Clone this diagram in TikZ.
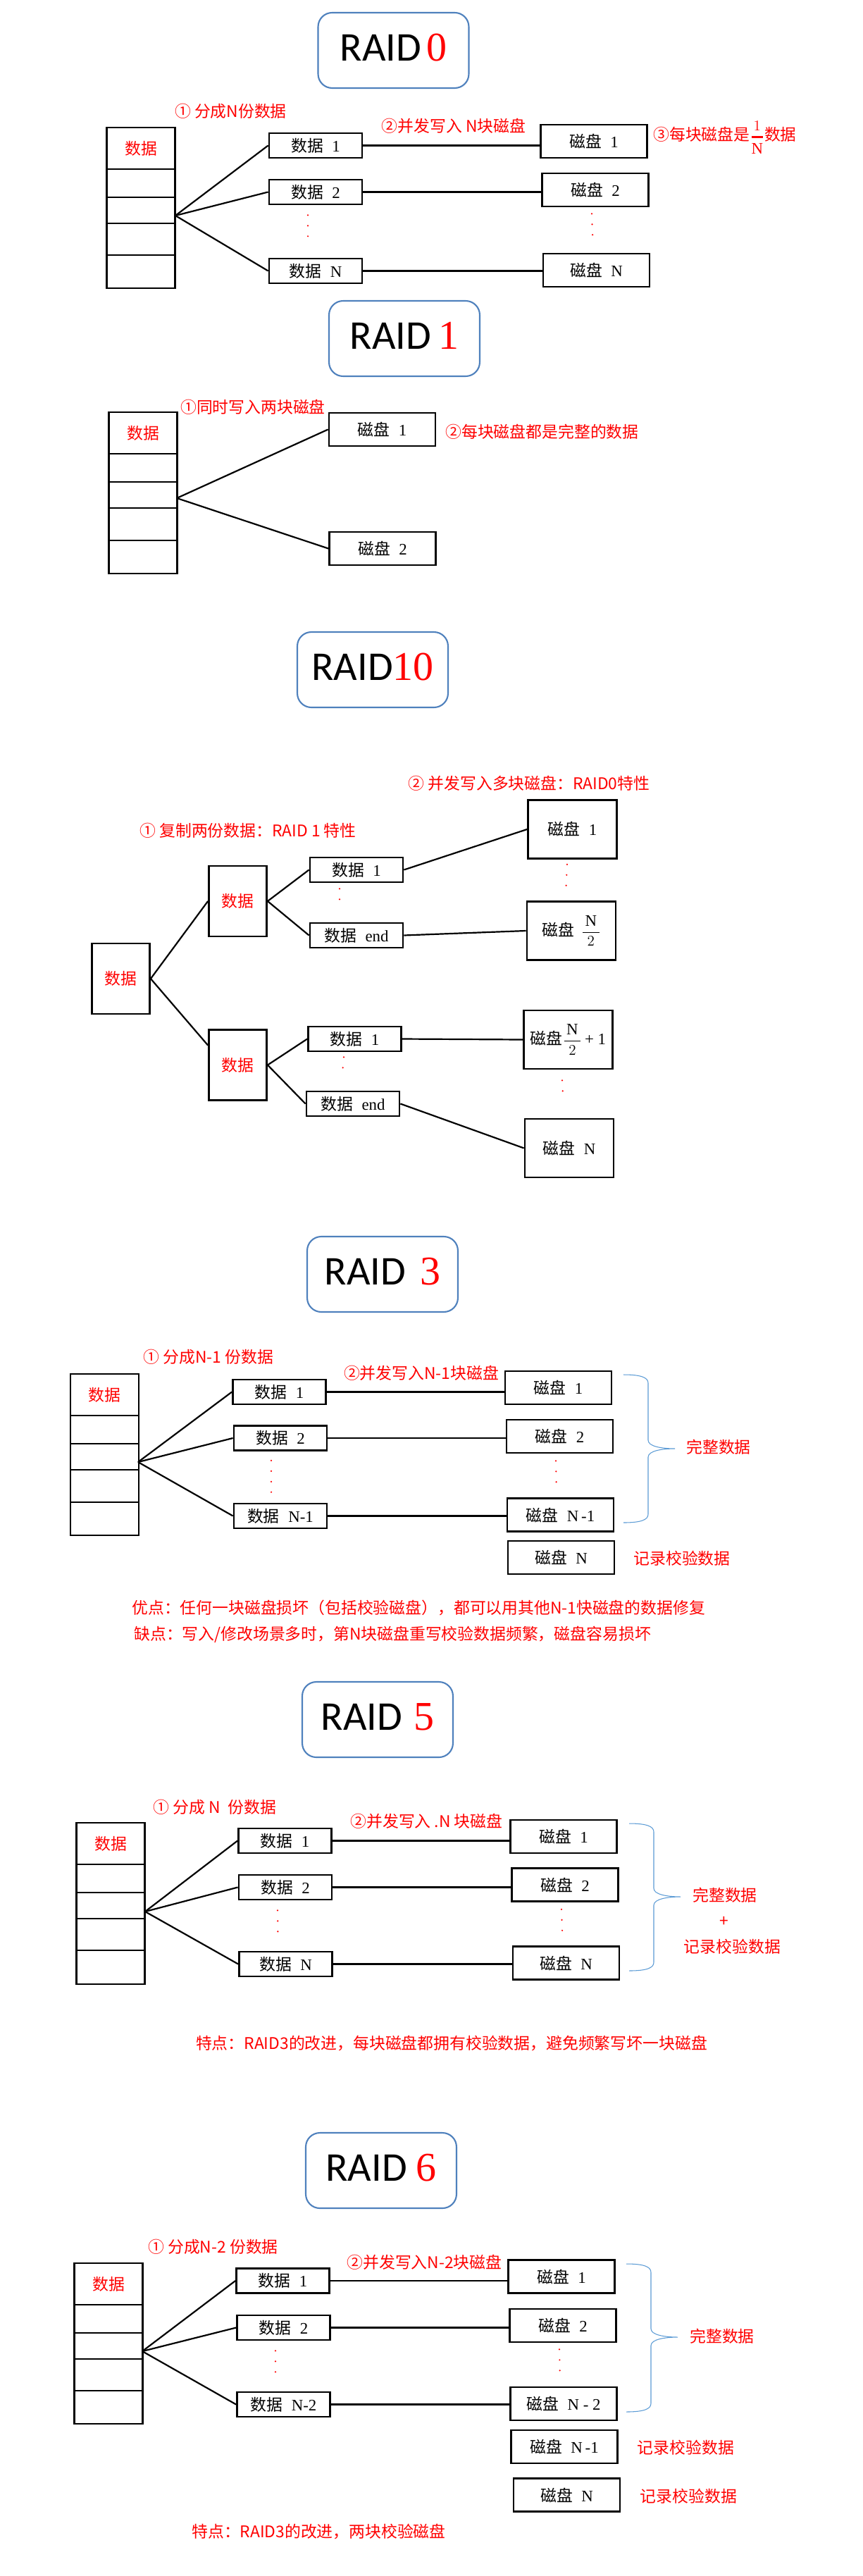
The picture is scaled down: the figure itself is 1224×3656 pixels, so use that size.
\documentclass[tikz,border=0pt]{standalone}
\usepackage{amsmath}
\usepackage{fontspec}
\setmainfont{Liberation Serif}
\newfontfamily\cjk{Noto Sans CJK SC}
\newfontfamily\raidfont{Carlito}
\usepackage{tikz}

\definecolor{raidblue}{RGB}{79,129,189}
\definecolor{bracecol}{RGB}{91,155,213}
\newcommand{\idx}[1]{\hspace{0.25cm}{\rmfamily #1}}
\newcommand{\diskbrace}[4]{\draw[brace] (#1, #2) .. controls (#1+25, #2) and (#1+35, #2+4) .. (#1+35, #2+12) -- (#1+35, #3-12) .. controls (#1+35, #3-3) and (#1+55, #3) .. (#1+73, #3) .. controls (#1+55, #3) and (#1+35, #3+3) .. (#1+35, #3+12) -- (#1+35, #4-12) .. controls (#1+35, #4-4) and (#1+25, #4) .. (#1, #4);}

\begin{document}
\begin{tikzpicture}[x=0.02cm, y=-0.02cm]%
	\tikzstyle{raid}=[rectangle, draw=raidblue, line width=1.2pt, rounded corners=0.4cm, minimum width=4.28cm, minimum height=2.14cm, text depth=0.18cm, inner sep=0, font=\fontsize{33pt}{36pt}\selectfont];
	\tikzstyle{cell}=[rectangle, draw=black, line width=1.6pt, minimum width=1.94cm, inner sep=0, text=red, font=\cjk\fontsize{13pt}{15pt}\selectfont];
	\tikzstyle{blk}=[rectangle, draw=black, line width=1.6pt, minimum width=2.64cm, minimum height=0.7cm, inner sep=0, font=\cjk\fontsize{13pt}{15pt}\selectfont];
	\tikzstyle{disk}=[blk, minimum width=3.02cm, minimum height=0.94cm];
	\tikzstyle{tall}=[blk, minimum width=2.52cm, minimum height=1.66cm];
	\tikzstyle{stack}=[blk, minimum width=1.64cm, minimum height=2cm, text=red];
	\tikzstyle{note}=[text=red, inner sep=0, font=\cjk\fontsize{13pt}{15pt}\selectfont];
	\tikzstyle{link}=[line width=1.25pt];
	\tikzstyle{dots}=[red, line width=1.4pt, line cap=round, dash pattern=on 0pt off 8.5pt];
	\tikzstyle{brace}=[bracecol, line width=0.6pt];
	\fill[white] (0, 0) rectangle (1224, 3656);
	\useasboundingbox (0, 0) rectangle (1224, 3656);

	% RAID 0
	\node (t0) at (558.5, 71.5) [raid] {{\raidfont RAID}\hspace{0.14cm}{\color{red}0}\hspace{0.52cm}};
	\node (n01) at (327.5, 158) [note] {① 分成N份数据};
	\node (n02) at (644, 179) [note] {②并发写入 N块磁盘};
	\begin{scope}
		\clip (900, 150) rectangle (1127, 235);
		\node (n03) at (927, 195) [note, anchor=west] {③每块磁盘是$\genfrac{}{}{1.5pt}{0}{1}{\mathrm{N}}$数据};
	\end{scope}
	\node (c0a) at (200, 210.5) [cell, minimum height=1.18cm] {数据};
	\node (c0b) at (200, 260) [cell, minimum height=0.8cm] {};
	\node (c0c) at (200, 298.5) [cell, minimum height=0.74cm] {};
	\node (c0d) at (200, 339.5) [cell, minimum height=0.9cm] {};
	\node (c0e) at (200, 385.5) [cell, minimum height=0.94cm] {};
	\coordinate (fan0) at (249, 306);
	\node (d01) at (448, 206.5) [blk] {数据\idx{1}};
	\node (d02) at (448, 272.5) [blk] {数据\idx{2}};
	\node (d0n) at (448, 384.5) [blk] {数据\idx{N}};
	\node (k01) at (843, 200.5) [disk] {磁盘\idx{1}};
	\node (k02) at (845, 269.5) [disk] {磁盘\idx{2}};
	\node (k0n) at (846.5, 383.5) [disk] {磁盘\idx{N}};
	\draw[link] (fan0) -- (d01.west);
	\draw[link] (fan0) -- (d02.west);
	\draw[link] (fan0) -- (d0n.west);
	\draw[link] (d01.east) -- (d01.east -| k01.west);
	\draw[link] (d02.east) -- (d02.east -| k02.west);
	\draw[link] (d0n.east) -- (d0n.east -| k0n.west);
	\draw[dots] ([xshift=-0.22cm, yshift=-0.28cm]d02.south) -- ([xshift=-0.22cm, yshift=0.34cm]d0n.north);
	\draw[dots] ([xshift=-0.1cm, yshift=-0.18cm]k02.south) -- ([xshift=-0.1cm, yshift=0.24cm]k0n.north);

	% RAID 1
	\node (t1) at (574, 480.5) [raid] {{\raidfont RAID}\hspace{0.2cm}{\color{red}1}\hspace{0.58cm}};
	\node (n11) at (359, 578) [note] {①同时写入两块磁盘};
	\node (n12) at (769.5, 613) [note] {②每块磁盘都是完整的数据};
	\node (c1a) at (203, 614.5) [cell, minimum height=1.18cm] {数据};
	\node (c1b) at (203, 664) [cell, minimum height=0.8cm] {};
	\node (c1c) at (203, 702.5) [cell, minimum height=0.74cm] {};
	\node (c1d) at (203, 744) [cell, minimum height=0.92cm] {};
	\node (c1e) at (203, 790.5) [cell, minimum height=0.94cm] {};
	\coordinate (fan1) at (251, 707);
	\node (k11) at (542.5, 609.5) [disk] {磁盘\idx{1}};
	\node (k12) at (543, 778.5) [disk] {磁盘\idx{2}};
	\draw[link] (fan1) -- (k11.west);
	\draw[link] (fan1) -- (k12.west);

	% RAID 10
	\node (t10) at (529, 950.5) [raid] {{\raidfont RAID}{\color{red}10}};
	\node (n101) at (352, 1179) [note] {① 复制两份数据：RAID 1 特性};
	\node (n102) at (751, 1112) [note] {② 并发写入多块磁盘：RAID0特性};
	\node (r10) at (171.5, 1389) [stack] {数据};
	\node (u10) at (337.5, 1279) [stack] {数据};
	\node (l10) at (337.5, 1511.5) [stack] {数据};
	\node (ud1) at (506, 1234.5) [blk] {数据\idx{1}};
	\node (ude) at (506, 1327.5) [blk] {数据\idx{end}};
	\node (ld1) at (503.5, 1474.5) [blk] {数据\idx{1}};
	\node (lde) at (501, 1566.5) [blk] {数据\idx{end}};
	\node (k101) at (812.5, 1177) [tall] {磁盘\idx{1}};
	\node (k102) at (811, 1321) [tall] {磁盘\hspace{0.2cm}$\dfrac{\,\mathrm{N}\,}{2}$};
	\node (k103) at (806.5, 1475.5) [tall] {磁盘$\dfrac{\,\mathrm{N}\,}{2}$\,{\rmfamily + 1}};
	\node (k104) at (808, 1629.5) [tall] {磁盘\idx{N}};
	\draw[link] (r10.east) -- (u10.west);
	\draw[link] (r10.east) -- ([yshift=0.56cm]l10.west);
	\draw[link] (u10.east) -- (ud1.west);
	\draw[link] (u10.east) -- (ude.west);
	\draw[link] (l10.east) -- (ld1.west);
	\draw[link] (l10.east) -- (lde.west);
	\draw[link] (ud1.east) -- (k101.west);
	\draw[link] (ude.east) -- (k102.west);
	\draw[link] (ld1.east) -- (k103.west);
	\draw[link] (lde.east) -- (k104.west);
	\draw[dots] ([xshift=-0.48cm, yshift=-0.16cm]ud1.south) -- ([xshift=-0.48cm, yshift=0.38cm]ude.north);
	\draw[dots] ([xshift=-0.31cm, yshift=-0.14cm]ld1.south) -- ([xshift=-0.31cm, yshift=0.38cm]lde.north);
	\draw[dots] ([xshift=-0.15cm, yshift=-0.14cm]k101.south) -- ([xshift=-0.15cm, yshift=0.36cm]k102.north);
	\draw[dots] ([xshift=-0.17cm, yshift=-0.3cm]k103.south) -- ([xshift=-0.17cm, yshift=0.48cm]k104.north);

	% RAID 3
	\node (t3) at (543, 1808.5) [raid] {{\raidfont RAID}\hspace{0.4cm}{\color{red}3}\hspace{0.22cm}};
	\node (n31) at (296, 1926) [note] {① 分成N-1 份数据};
	\node (n32) at (598, 1949) [note] {②并发写入N-1块磁盘};
	\node (c3a) at (148.5, 1979.5) [cell, minimum height=1.18cm] {数据};
	\node (c3b) at (148.5, 2029) [cell, minimum height=0.8cm] {};
	\node (c3c) at (148.5, 2067.5) [cell, minimum height=0.74cm] {};
	\node (c3d) at (148.5, 2109) [cell, minimum height=0.92cm] {};
	\node (c3e) at (148.5, 2155.5) [cell, minimum height=0.94cm] {};
	\coordinate (fan3) at (196, 2075);
	\node (d31) at (396.5, 1975.5) [blk] {数据\idx{1}};
	\node (d32) at (398, 2041) [blk] {数据\idx{2}};
	\node (d3n) at (398, 2151.5) [blk] {数据\idx{N-1}};
	\node (k31) at (792.5, 1969.5) [disk] {磁盘\idx{1}};
	\node (k32) at (794.5, 2038.5) [disk] {磁盘\idx{2}};
	\node (k3n1) at (795.5, 2150) [disk] {磁盘\idx{N\,-1}};
	\node (k3n) at (796.5, 2210.5) [disk] {磁盘\idx{N}};
	\draw[link] (fan3) -- (d31.west);
	\draw[link] (fan3) -- (d32.west);
	\draw[link] (fan3) -- (d3n.west);
	\draw[link] (d31.east) -- (d31.east -| k31.west);
	\draw[link] (d32.east) -- (d32.east -| k32.west);
	\draw[link] (d3n.east) -- (d3n.east -| k3n1.west);
	\draw[dots] ([xshift=-0.26cm, yshift=-0.26cm]d32.south) -- ([xshift=-0.26cm, yshift=0.26cm]d3n.north);
	\draw[dots] ([xshift=-0.11cm, yshift=-0.2cm]k32.south) -- ([xshift=-0.11cm, yshift=0.14cm]k3n1.north);
	\diskbrace{885}{1951}{2056}{2161}
	\node (n33) at (1020, 2054) [note] {完整数据};
	\node (n34) at (968, 2212) [note] {记录校验数据};
	\node (n35) at (187, 2282) [note, anchor=west] {优点：任何一块磁盘损坏（包括校验磁盘），都可以用其他N-1快磁盘的数据修复};
	\node (n36) at (190, 2320) [note, anchor=west] {缺点：写入/修改场景多时，第N块磁盘重写校验数据频繁，磁盘容易损坏};

	% RAID 5
	\node (t5) at (536, 2440.5) [raid] {{\raidfont RAID}\hspace{0.32cm}{\color{red}5}\hspace{0.34cm}};
	\node (n51) at (305, 2565) [note] {① 分成 N\ \ 份数据};
	\node (n52) at (605.5, 2585) [note] {②并发写入 .N 块磁盘};
	\node (c5a) at (157, 2616.5) [cell, minimum height=1.18cm] {数据};
	\node (c5b) at (157, 2666) [cell, minimum height=0.8cm] {};
	\node (c5c) at (157, 2704.5) [cell, minimum height=0.74cm] {};
	\node (c5d) at (157, 2745.5) [cell, minimum height=0.9cm] {};
	\node (c5e) at (157, 2792) [cell, minimum height=0.96cm] {};
	\coordinate (fan5) at (206, 2713);
	\node (d51) at (404.5, 2612.5) [blk] {数据\idx{1}};
	\node (d52) at (405, 2678.5) [blk] {数据\idx{2}};
	\node (d5n) at (405.5, 2787.5) [blk] {数据\idx{N}};
	\node (k51) at (800, 2606.5) [disk] {磁盘\idx{1}};
	\node (k52) at (802, 2675) [disk] {磁盘\idx{2}};
	\node (k5n) at (803.5, 2786) [disk] {磁盘\idx{N}};
	\draw[link] (fan5) -- (d51.west);
	\draw[link] (fan5) -- (d52.west);
	\draw[link] (fan5) -- (d5n.west);
	\draw[link] (d51.east) -- (d51.east -| k51.west);
	\draw[link] (d52.east) -- (d52.east -| k52.west);
	\draw[link] (d5n.east) -- (d5n.east -| k5n.west);
	\draw[dots] ([xshift=-0.22cm, yshift=-0.28cm]d52.south) -- ([xshift=-0.22cm, yshift=0.26cm]d5n.north);
	\draw[dots] ([xshift=-0.1cm, yshift=-0.2cm]k52.south) -- ([xshift=-0.1cm, yshift=0.16cm]k5n.north);
	\diskbrace{893}{2588}{2692}{2797}
	\node (n53) at (1029, 2690) [note] {完整数据};
	\node (n54) at (1028, 2727) [note] {+};
	\node (n55) at (1039.5, 2763) [note] {记录校验数据};
	\node (n56) at (641, 2900) [note] {特点：RAID3的改进，每块磁盘都拥有校验数据，避免频繁写坏一块磁盘};

	% RAID 6
	\node (t6) at (541, 3080.5) [raid] {{\raidfont RAID}\hspace{0.26cm}{\color{red}6}\hspace{0.32cm}};
	\node (n61) at (302.5, 3189) [note] {① 分成N-2 份数据};
	\node (n62) at (602.5, 3210.5) [note] {②并发写入N-2块磁盘};
	\node (c6a) at (154, 3241.5) [cell, minimum height=1.18cm] {数据};
	\node (c6b) at (154, 3291) [cell, minimum height=0.8cm] {};
	\node (c6c) at (154, 3329.5) [cell, minimum height=0.74cm] {};
	\node (c6d) at (154, 3370.5) [cell, minimum height=0.9cm] {};
	\node (c6e) at (154, 3416.5) [cell, minimum height=0.94cm] {};
	\coordinate (fan6) at (202, 3337);
	\node (d61) at (401.5, 3237) [blk] {数据\idx{1}};
	\node (d62) at (402.5, 3303.5) [blk] {数据\idx{2}};
	\node (d6n) at (402.5, 3412.5) [blk] {数据\idx{N-2}};
	\node (k61) at (797, 3231) [disk] {磁盘\idx{1}};
	\node (k62) at (799, 3300.5) [disk] {磁盘\idx{2}};
	\node (k6n2) at (800, 3411.5) [disk] {磁盘\idx{N - 2}};
	\node (k6n1) at (801, 3472.5) [disk] {磁盘\idx{N\,-1}};
	\node (k6n) at (804.5, 3541) [disk] {磁盘\idx{N}};
	\draw[link] (fan6) -- (d61.west);
	\draw[link] (fan6) -- (d62.west);
	\draw[link] (fan6) -- (d6n.west);
	\draw[link] (d61.east) -- (d61.east -| k61.west);
	\draw[link] (d62.east) -- (d62.east -| k62.west);
	\draw[link] (d6n.east) -- (d6n.east -| k6n2.west);
	\draw[dots] ([xshift=-0.23cm, yshift=-0.28cm]d62.south) -- ([xshift=-0.23cm, yshift=0.28cm]d6n.north);
	\draw[dots] ([xshift=-0.1cm, yshift=-0.18cm]k62.south) -- ([xshift=-0.1cm, yshift=0.18cm]k6n2.north);
	\diskbrace{889}{3213}{3317}{3423}
	\node (n63) at (1025, 3316) [note] {完整数据};
	\node (n64) at (973.5, 3474) [note] {记录校验数据};
	\node (n65) at (977.5, 3543) [note] {记录校验数据};
	\node (n66) at (452.5, 3593) [note] {特点：RAID3的改进，两块校验磁盘};
	\end{tikzpicture}
\end{document}
